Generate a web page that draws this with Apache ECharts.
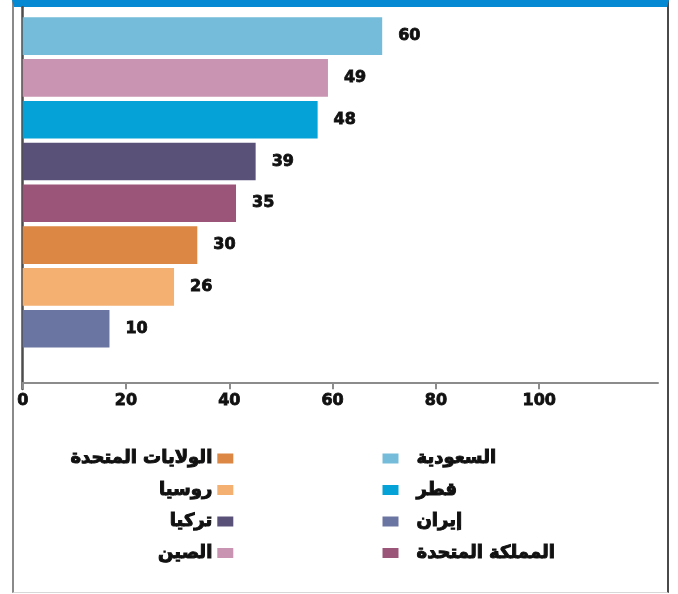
<!DOCTYPE html>
<html>
<head>
<meta charset="utf-8">
<script src="https://cdn.jsdelivr.net/npm/echarts@6/dist/echarts.min.js"></script>
<style>
  html, body { margin: 0; padding: 0; background: #ffffff; }
  #frame {
    position: absolute; left: 12px; top: 0; width: 653px; height: 585px;
    border-top: 7px solid #0589d2; border-left: 2px solid #8a8a8a;
    border-right: 2px solid #4a4a4a; border-bottom: 1px solid #d8d8d8;
  }
  #chart { position: absolute; left: 0; top: 0; width: 678px; height: 594px; }
</style>
</head>
<body>
<div id="frame"></div>
<div id="chart"></div>
<script>
// Categories, top to bottom
const countries = ['السعودية', 'الصين', 'قطر', 'تركيا', 'المملكة المتحدة', 'الولايات المتحدة', 'روسيا', 'إيران'];
// Bar lengths as drawn against the axis
const barValues = [69.6, 59.1, 57.1, 45.1, 41.3, 33.8, 29.3, 16.8];
// Values printed at the end of each bar
const printedValues = [60, 49, 48, 39, 35, 30, 26, 10];
const colors = ['#74bcd9', '#c994b1', '#04a2d6', '#5a5178', '#9b5578', '#dc8743', '#f3b070', '#6a75a2'];
// Axis ticks
const xTicks = [0, 20, 40, 60, 80, 100];
// Legend columns
const legendLeftCol = ['الولايات المتحدة', 'روسيا', 'تركيا', 'الصين'];
const legendRightCol = ['السعودية', 'قطر', 'إيران', 'المملكة المتحدة'];

const FONT = 'DejaVu Sans';

const series = countries.map((name, i) => ({
  name: name,
  type: 'bar',
  stack: 'all',
  xAxisIndex: 0,
  yAxisIndex: 0,
  barWidth: 37.6,
  itemStyle: { color: colors[i] },
  data: countries.map((c, j) => (j === i ? barValues[j] : '-')),
  label: {
    show: true,
    position: 'right',
    distance: 16,
    fontFamily: FONT,
    fontWeight: 'bold',
    fontSize: 16,
    color: '#111',
    textBorderColor: '#111',
    textBorderWidth: 0.8,
    formatter: (p) => String(printedValues[p.dataIndex])
  },
  emphasis: { disabled: true },
  silent: true
}));

const chart = echarts.init(document.getElementById('chart'), null, { renderer: 'canvas' });
chart.setOption({
  backgroundColor: 'transparent',
  animation: false,
  grid: [
    { left: 22.7, top: 15.2, width: 635.3, height: 334.4 },
    { left: 22.7, top: 7.3, width: 10, height: 381.7 }
  ],
  xAxis: [
    {
      gridIndex: 0, type: 'value', min: 0, max: 123, offset: 32.7,
      axisLine: { show: true, lineStyle: { color: '#8c8c8c', width: 2 } },
      axisTick: { show: true, customValues: xTicks, length: 7, lineStyle: { color: '#8c8c8c', width: 2 } },
      axisLabel: { show: true, customValues: xTicks, margin: 11, fontFamily: FONT, fontWeight: 'bold', fontSize: 16, color: '#111', textBorderColor: '#111', textBorderWidth: 0.8 },
      splitLine: { show: false }
    },
    { gridIndex: 1, type: 'value', show: false }
  ],
  yAxis: [
    {
      gridIndex: 0, type: 'category', inverse: true, data: countries,
      axisLine: { show: false }, axisTick: { show: false }, axisLabel: { show: false }
    },
    {
      gridIndex: 1, type: 'value', min: 0, max: 1,
      axisLine: { show: true, lineStyle: { color: '#4d4d4d', width: 2.5 } },
      axisTick: { show: false }, axisLabel: { show: false }, splitLine: { show: false }
    }
  ],
  legend: [
    {
      orient: 'vertical', align: 'right', right: 444.7, top: 449, padding: 0,
      itemWidth: 16, itemHeight: 10, itemGap: 12.5, icon: 'rect', selectedMode: false,
      data: legendLeftCol,
      textStyle: { fontFamily: FONT, fontWeight: 'bold', fontSize: 18, color: '#111', textBorderColor: '#111', textBorderWidth: 1 }
    },
    {
      orient: 'vertical', align: 'left', left: 382.5, top: 449, padding: 0,
      itemWidth: 16, itemHeight: 10, itemGap: 12.5, icon: 'rect', selectedMode: false,
      data: legendRightCol,
      textStyle: { fontFamily: FONT, fontWeight: 'bold', fontSize: 18, color: '#111', textBorderColor: '#111', textBorderWidth: 1, padding: [0, 0, 0, 13] }
    }
  ],
  series: series
});
</script>
</body>
</html>
